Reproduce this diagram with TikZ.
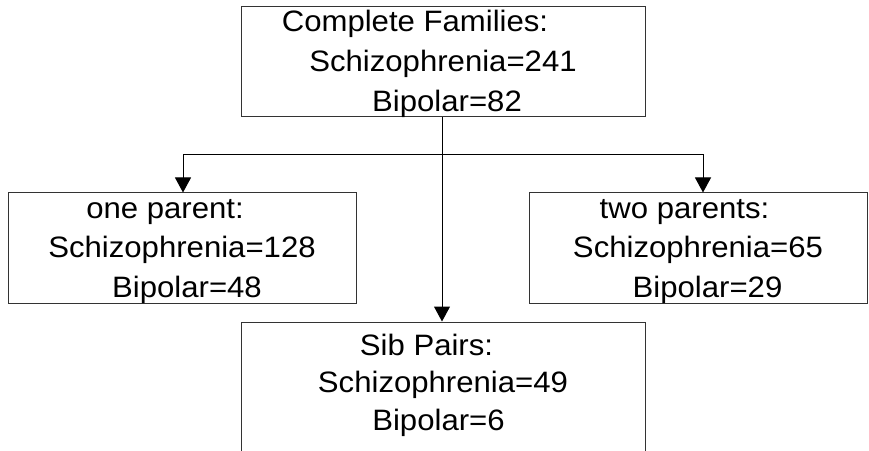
\documentclass[tikz,border=0pt]{standalone}
\usepackage{fontspec}
\setmainfont{Liberation Sans}[FakeStretch=1.055]
\usetikzlibrary{arrows.meta}
\tikzset{
  famblock/.style={draw=black!80, line width=1pt, align=center, inner ysep=0pt,
    font=\fontsize{29.5}{40}\selectfont},
  link/.style={line width=1pt, -{Triangle[width=16pt,length=15pt]}}
}

\begin{document}
\begin{tikzpicture}[x=1pt, y=1pt]
			%%%%% START %%%%%
			
			\useasboundingbox (0, 0) rectangle (869, 450);
			
			\node[famblock, minimum width=404pt, minimum height=110pt,
				text height=104pt, text depth=4pt] (fam) at (443, 388)
				{Complete Families:\hspace*{56pt}\\Schizophrenia=241\\\hspace*{8pt}Bipolar=82};
			
			\node[famblock, minimum width=348pt, minimum height=110pt,
				font=\fontsize{29.5}{39.5}\selectfont, text height=102pt, text depth=4pt] (onepar) at (182, 202)
				{one parent:\hspace*{34pt}\\Schizophrenia=128\\\hspace*{10pt}Bipolar=48};
			\node[famblock, minimum width=338pt, minimum height=110pt,
				font=\fontsize{29.5}{39.5}\selectfont, text height=102pt, text depth=4pt] (twopar) at (698, 202)
				{two parents:\hspace*{27pt}\\Schizophrenia=65\hspace*{7pt}\\\hspace*{19pt}Bipolar=29};
			
			\node[famblock, minimum width=404pt, minimum height=129.5pt,
				font=\fontsize{29.5}{37.5}\selectfont, text height=95pt, text depth=8.5pt] (sibs) at (443, 63.25)
				{Sib Pairs:\hspace*{33pt}\\Schizophrenia=49\hspace*{14pt}\\Bipolar=6\hspace*{9pt}};
			
			\coordinate (split) at (442, 295);
			
			\draw[link] (fam.south -| split) -- (sibs.north -| split);
			\draw[link] (split) -| ([xshift=1pt]onepar.north);
			\draw[link] (split) -| ([xshift=5pt]twopar.north);
			
			%%%%% END %%%%%
\end{tikzpicture}
\end{document}
